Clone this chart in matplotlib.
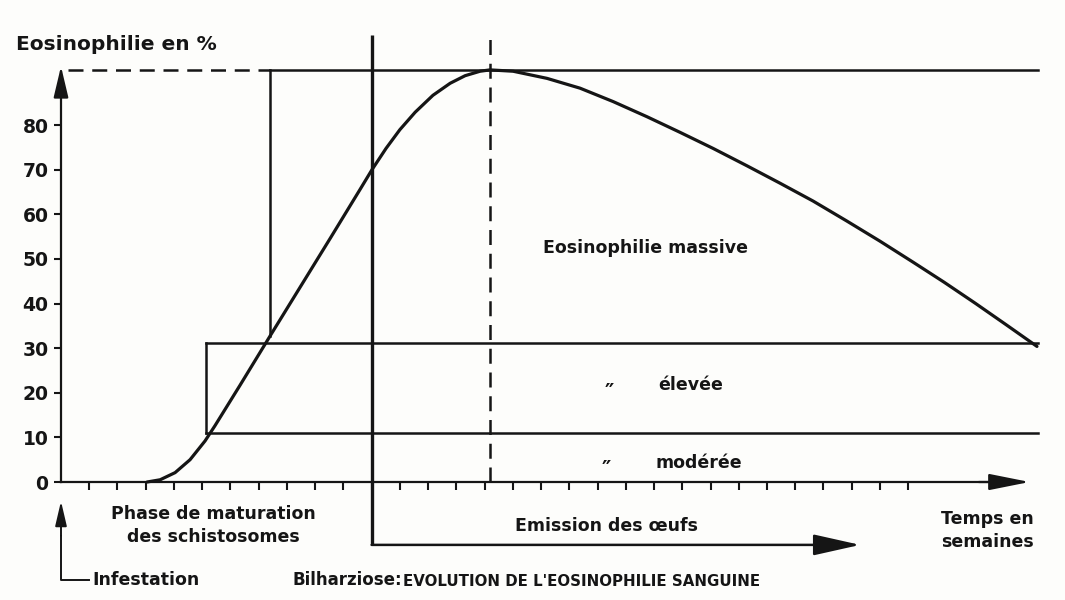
import matplotlib
matplotlib.use("Agg")
import matplotlib.pyplot as plt

# eosinophilia curve (weeks, %)
weeks = [3.05, 3.51, 4.04, 4.57, 5.10, 5.45, 6.34, 7.40, 8.46, 9.53, 10.59, 11.01, 11.51, 12.0,
         12.54, 13.17, 13.78, 14.31, 14.84, 15.19,
         16.01, 17.21, 18.38, 19.55, 20.75, 21.92, 23.09, 24.29, 25.46, 26.63, 27.83, 29.0,
         30.17, 31.27, 32.37, 33.46, 34.56]
eosino = [0, 0.5, 2.1, 5.0, 9.2, 12.6, 21.7, 32.7, 43.6, 54.6, 65.6, 70.0, 74.8, 79.0,
          82.9, 86.7, 89.4, 91.1, 92.1, 92.4,
          92.1, 90.5, 88.3, 85.3, 81.9, 78.4, 74.8, 70.9, 67.0, 63.0, 58.5, 54.0,
          49.3, 44.8, 40.1, 35.3, 30.4]

y_ticks = [0, 10, 20, 30, 40, 50, 60, 70, 80]
x_ticks = list(range(1, 31))

# zone limits
moderate_level = 11
high_level = 31.2
massive_level = 92.4
moderate_start = 5.15
high_start = 7.4
end_week = 34.6
egg_start = 11.0      # start of egg emission
peak_week = 15.2

BLACK = "#151515"
LW = 1.8

fig = plt.figure(figsize=(10.65, 6), dpi=100)
fig.patch.set_facecolor("#fdfdfb")
ax = fig.add_axes([0, 0, 1, 1])
ax.patch.set_visible(False)
ax.set_xlim(-61 / 28.24, (1065 - 61) / 28.24)
ax.set_ylim(-118 / 4.46, 482 / 4.46)

# axes
for side in ["top", "right"]:
    ax.spines[side].set_visible(False)
ax.spines["left"].set_position(("data", 0))
ax.spines["bottom"].set_position(("data", 0))
ax.spines["left"].set_bounds(0, 90)
ax.spines["bottom"].set_bounds(0, 33)
for side in ["left", "bottom"]:
    ax.spines[side].set_linewidth(1.6)
    ax.spines[side].set_color(BLACK)
ax.set_yticks(y_ticks)
ax.set_xticks(x_ticks)
ax.tick_params(axis="y", direction="out", length=5, width=1.5, pad=4, labelsize=13.5, colors=BLACK)
ax.tick_params(axis="x", direction="out", length=6, width=1.5, labelbottom=False, colors=BLACK)
for lbl in ax.get_yticklabels():
    lbl.set_fontweight("bold")

arrow = dict(color=BLACK, lw=1.6, shrinkA=0, shrinkB=0)
ax.annotate("", xy=(34.3, 0), xytext=(32.5, 0),
            arrowprops=dict(arrowstyle="-|>,head_length=2.5,head_width=0.5", mutation_scale=10, **arrow))
ax.annotate("", xy=(0, 93.2), xytext=(0, 88),
            arrowprops=dict(arrowstyle="-|>,head_length=1.9,head_width=0.45", mutation_scale=10, **arrow))

# zone boundaries
ax.plot([0.25, high_start], [massive_level] * 2, color=BLACK, lw=LW, dashes=(6, 3.5))
ax.plot([high_start, end_week], [massive_level] * 2, color=BLACK, lw=LW)
ax.plot([high_start] * 2, [massive_level, 32.7], color=BLACK, lw=LW)
ax.plot([moderate_start, end_week], [high_level] * 2, color=BLACK, lw=LW)
ax.plot([moderate_start] * 2, [high_level, moderate_level], color=BLACK, lw=LW)
ax.plot([moderate_start, end_week], [moderate_level] * 2, color=BLACK, lw=LW)

# egg emission and peak
ax.plot([egg_start] * 2, [100.2, -14.1], color=BLACK, lw=2.4, solid_capstyle="butt")
ax.annotate("", xy=(28.3, -14.1), xytext=(egg_start, -14.1),
            arrowprops=dict(arrowstyle="-|>,head_length=2.9,head_width=0.65", mutation_scale=10,
                            color=BLACK, lw=1.8, shrinkA=0, shrinkB=0))
ax.plot([peak_week] * 2, [0, 100.2], color=BLACK, lw=LW, dashes=(6, 3.5))

# infestation marker
ax.plot([0, 0, 1.0], [-12, -22, -22], color=BLACK, lw=1.4)
ax.annotate("", xy=(0, -4.3), xytext=(0, -12),
            arrowprops=dict(arrowstyle="-|>,head_length=1.5,head_width=0.35", mutation_scale=10,
                            color=BLACK, lw=1.4, shrinkA=0, shrinkB=0))

ax.plot(weeks, eosino, color=BLACK, lw=2.3, solid_joinstyle="round", solid_capstyle="round")

txt = dict(color=BLACK, fontweight="bold", fontsize=12.5)
ax.text(-1.6, 98.2, "Eosinophilie en %", ha="left", va="center", color=BLACK,
        fontweight="bold", fontsize=14.5)
ax.text(20.7, 52.5, "Eosinophilie massive", ha="center", va="center", **txt)
ax.text(19.4, 20.0, "\u2033", ha="center", va="center", fontsize=15, color=BLACK, fontweight="bold")
ax.text(22.3, 21.7, "élevée", ha="center", va="center", **txt)
ax.text(19.3, 2.6, "\u2033", ha="center", va="center", fontsize=15, color=BLACK, fontweight="bold")
ax.text(22.6, 4.3, "modérée", ha="center", va="center", **txt)
ax.text(5.4, -9.8, "Phase de maturation\ndes schistosomes", ha="center", va="center",
        linespacing=1.35, **txt)
ax.text(19.3, -9.9, "Emission des œufs", ha="center", va="center", **txt)
ax.text(32.8, -10.9, "Temps en\nsemaines", ha="center", va="center", linespacing=1.35, **txt)
ax.text(1.1, -22, "Infestation", ha="left", va="center", **txt)
ax.text(8.2, -22, "Bilharziose:", ha="left", va="center", color=BLACK,
        fontweight="bold", fontsize=12)
ax.text(12.1, -22.3, "EVOLUTION DE L'EOSINOPHILIE SANGUINE", ha="left", va="center",
        color=BLACK, fontweight="bold", fontsize=10.8)

fig.savefig("out.png", dpi=100, facecolor=fig.get_facecolor())
